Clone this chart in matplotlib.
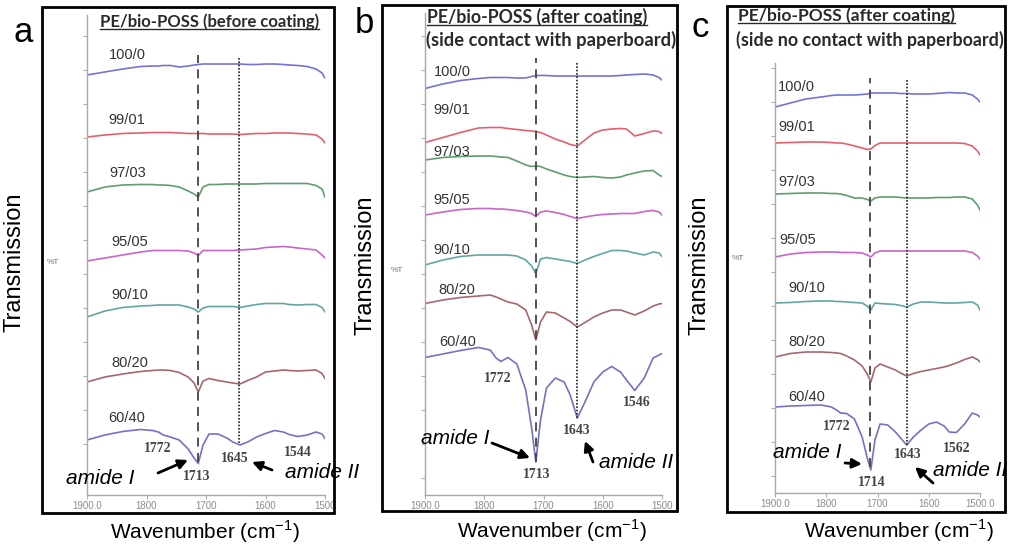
import matplotlib
matplotlib.use('Agg')
import matplotlib.pyplot as plt
from matplotlib.patches import Rectangle
from matplotlib.lines import Line2D

plt.rcParams['font.family'] = ['Liberation Sans', 'DejaVu Sans']

# wavenumber grid (cm-1) used for all spectra
wn = [1900, 1870, 1840, 1810, 1790, 1780, 1772, 1760, 1745, 1730, 1720, 1713, 1705, 1695,
      1680, 1665, 1655, 1643, 1630, 1615, 1600, 1585, 1570, 1560, 1546, 1530, 1515, 1505, 1500]

samples = ['100/0', '99/01', '97/03', '95/05', '90/10', '80/20', '60/40']
colors = ['#7474d6', '#e4606c', '#5e9e6c', '#c865c8', '#62a6a2', '#a8666c', '#7272c6']

# (a) before coating  -- stacked transmission, arbitrary units
a_100_0 = [420, 423, 426, 428.5, 429, 429, 429.5, 429.5, 428, 429, 430, 430.5, 431, 431, 431, 431, 431, 431, 430.5, 430.5, 431, 431, 430.5, 430, 429.5, 428.5, 426, 422, 417]
a_99_01 = [358, 360, 361.5, 362, 362.5, 362.5, 362.5, 362.5, 362, 361.5, 361.5, 361.5, 361.5, 361, 361, 361, 361, 360.5, 361, 361.5, 361.5, 362, 362, 362, 361.5, 361, 360, 356, 352]
a_97_03 = [303, 308, 310, 310.5, 310.5, 310, 310, 309.5, 308, 304, 301, 298, 308, 310.5, 310.5, 311, 311, 311, 311, 311, 311.5, 311.5, 311.5, 311.5, 311.5, 311.5, 309.5, 306, 298]
a_95_05 = [234, 237, 240, 243, 244.5, 244.5, 244.5, 244.5, 244.5, 244, 242, 239.5, 244.5, 244.5, 244.5, 244.5, 244.5, 245, 245.5, 246, 247.5, 248, 248.5, 248, 247, 246, 245, 240, 237]
a_90_10 = [178, 184, 187.5, 189, 189.5, 190, 190, 190, 190, 188, 186, 183, 187, 188.5, 188.5, 188.5, 188.5, 187.5, 189, 190.5, 191.5, 191.5, 191.5, 190.5, 190, 190.5, 190.5, 187.5, 183]
a_80_20 = [113, 118, 121, 123.5, 124.5, 125, 125, 124.5, 122.5, 118, 112, 103, 114, 116.5, 114.5, 113, 112, 111, 114.5, 118, 123, 124, 125, 124.5, 124, 124.5, 125, 121.5, 116.5]
a_60_40 = [55, 60, 63.5, 65.5, 64.5, 63, 60, 58, 55, 46, 37, 31.5, 50, 61, 61, 57, 53, 50, 53, 58, 61.5, 64.5, 63, 60.5, 58.5, 60, 63, 61, 56.5]

# (b) after coating, side in contact with paperboard
b_100_0 = [406.5, 411, 414.5, 416.5, 417.5, 417.5, 417.5, 417.5, 417, 417, 418.5, 419.5, 419.5, 419.5, 419, 419, 419, 419, 419, 419, 419, 419, 419.5, 420, 420.5, 421, 420, 417.5, 415]
b_99_01 = [352.5, 357.5, 362.5, 367, 367.5, 367.5, 367.5, 366.5, 365.5, 364.5, 364, 363.5, 362.5, 360, 356, 353, 350.5, 349, 355, 362, 365, 366, 366.5, 366, 359, 361.5, 364, 363.5, 361.5]
b_97_03 = [335, 337.5, 338.5, 339, 339, 338.5, 338, 337.5, 334, 330, 328.5, 329, 328.5, 326, 323, 320, 318.5, 317.5, 318, 318.5, 317.5, 317, 318, 320, 322, 324, 324.5, 320, 318.5]
b_95_05 = [280, 283, 285.5, 286.5, 286.5, 286, 286, 285.5, 284.5, 283, 281.5, 278.5, 283, 284, 282.5, 280.5, 278.5, 276.5, 278, 279.5, 280.5, 281, 281.5, 281.5, 281.5, 283.5, 284.5, 283, 280]
b_90_10 = [230, 235, 238.5, 240, 240, 240, 240, 240, 239, 235, 229, 221.5, 236, 237.5, 236, 234.5, 233.5, 231.5, 235, 238.5, 241.5, 244.5, 244.5, 244, 242, 240, 243, 242, 238.5]
b_80_20 = [191.5, 195, 197.5, 199, 200, 198, 196, 193, 191, 185, 170, 155, 173, 183, 182, 177, 173.5, 168, 172.5, 178, 182, 185, 185, 183, 180, 184, 189, 191, 191.5]
b_60_40 = [137.5, 141, 144.5, 147.5, 145, 137, 133.5, 137.5, 131, 105, 67, 33, 75, 107, 117, 113, 100, 77, 93, 113, 123, 128.5, 123, 115, 104.5, 117, 137, 140, 141.5]

# (c) after coating, side not in contact with paperboard
c_100_0 = [386, 390, 394, 396, 397.5, 398, 398, 398, 398, 398.5, 399, 400, 400, 400, 400, 400, 399.5, 399.5, 399, 399, 399, 399.5, 400, 400.5, 400, 400, 398, 394, 391]
c_99_01 = [350, 350.5, 351, 351, 350.5, 350, 350, 349, 347, 345, 343.5, 344, 347.5,
           350, 350, 350, 350, 350, 350, 350, 350, 350, 350, 350, 350, 349.5, 347, 342, 338]
c_97_03 = [299, 299.5, 300, 300, 299.5, 299.5, 299, 297.5, 295, 295, 293.5, 292, 295, 296, 296, 296, 295.5, 295, 295, 295, 295, 295.5, 295.5, 295.5, 296, 296, 294, 288, 283]
c_95_05 = [236, 239, 240.5, 241, 241, 241, 240.5, 240.5, 240.5, 240, 238, 236, 240,
           242, 242, 242, 242, 242, 242, 242, 242, 242, 242, 242, 242, 242, 240.5, 237, 234]
c_90_10 = [190, 190.5, 191.5, 192, 192, 191.5, 191.5, 191, 190.5, 190, 187, 183, 190, 189.5, 189, 188.5, 187.5, 186, 189, 191, 191, 190.5, 190, 190, 190, 190.5, 191, 188, 183]
c_80_20 = [136, 139.5, 141, 141, 140.5, 140, 139.5, 137, 133, 127, 119, 111, 125, 129, 126, 123, 120, 117, 119.5, 121.5, 123, 124.5, 126, 127.5, 130, 133.5, 136, 133.5, 131]
c_60_40 = [86, 87, 87.5, 88, 86, 83, 80, 79.5, 74, 56, 35, 23, 53, 69, 68, 61, 55, 48, 56, 63, 69, 71, 67, 61, 60.5, 69, 80, 78, 76]

W, H = 1009, 548
fig = plt.figure(figsize=(W / 100, H / 100), dpi=100)


def fx(x):
    return x / W


def fy(y):
    return 1 - y / H


def ptext(x, y, s, **kw):
    return fig.text(fx(x), fy(y), s, **kw)


panels = [
    dict(letter='a', letter_xy=(23, 42), frame=(42, 7, 334, 513), axbox=(87, 15, 325, 495),
         data=[a_100_0, a_99_01, a_97_03, a_95_05, a_90_10, a_80_20, a_60_40],
         title=[('PE/bio-POSS (before coating)', 100, 22, 220)],
         xticklabels=['1900.0', '1800', '1700', '1600', '1500'],
         dash=(1713, 33, 440), dot=(1645, 52, 437),
         lab_xy=[(127, 55), (127, 120), (128, 173), (130, 242), (130, 295), (130, 363), (127, 418)],
         peaks=[('1772', 158, 448), ('1713', 197, 477), ('1645', 235, 458), ('1544', 298, 453)],
         am1=((100, 479), (158, 473), (188, 460)), am2=((322, 472), (272, 470), (252, 462)),
         trans=(15, 262), pct=(53, 262), wave=(205, 532)),
    dict(letter='b', letter_xy=(364, 33), frame=(382, 5, 677, 511), axbox=(425, 13, 662, 495),
         data=[b_100_0, b_99_01, b_97_03, b_95_05, b_90_10, b_80_20, b_60_40],
         title=[('PE/bio-POSS (after coating)', 427, 17, 221),
                ('(side contact with paperboard)', 426, 40, 249)],
         xticklabels=['1900.0', '1800', '1700', '1600', '1500'],
         dash=(1713, 33, 437), dot=(1643, 77, 433),
         lab_xy=[(452, 72), (452, 110), (452, 152), (452, 200), (452, 250), (457, 290), (458, 342)],
         peaks=[('1772', 498, 378), ('1713', 537, 475), ('1643', 577, 430), ('1546', 637, 403)],
         am1=((455, 438), (492, 443), (530, 458)), am2=((636, 463), (593, 462), (585, 441)),
         trans=(365, 265), pct=(397, 270), wave=(552, 531)),
    dict(letter='c', letter_xy=(700, 37), frame=(727, 6, 1005, 512), axbox=(775, 63, 980, 493),
         data=[c_100_0, c_99_01, c_97_03, c_95_05, c_90_10, c_80_20, c_60_40],
         title=[('PE/bio-POSS (after coating)', 738, 16, 217),
                ('(side no contact with paperboard)', 736, 40, 267)],
         xticklabels=['1900.0', '1800', '1700', '1600', '1500.0'],
         dash=(1714, 26, 415), dot=(1643, 48, 413),
         lab_xy=[(796, 87), (797, 127), (797, 182), (798, 240), (807, 288), (807, 342), (807, 397)],
         peaks=[('1772', 837, 427), ('1714', 872, 482), ('1643', 908, 455), ('1562', 957, 448)],
         am1=((807, 453), (845, 463), (862, 464)), am2=((970, 470), (933, 483), (915, 467)),
         trans=(700, 265), pct=(738, 258), wave=(899, 531)),
]

titles = []
for p in panels:
    x0, y0, x1, y1 = p['frame']
    fig.add_artist(Rectangle((fx(x0), fy(y1)), (x1 - x0) / W, (y1 - y0) / H,
                             transform=fig.transFigure, fill=False, lw=2, ec='black', zorder=5))

    ax0, ay0, ax1, ay1 = p['axbox']
    ax = fig.add_axes([fx(ax0), fy(ay1), (ax1 - ax0) / W, (ay1 - ay0) / H])
    ax.patch.set_alpha(0)
    ax.set_xlim(1900, 1500)
    ax.set_ylim(0, ay1 - ay0)
    for s in ['top', 'right']:
        ax.spines[s].set_visible(False)
    for s in ['left', 'bottom']:
        ax.spines[s].set_color('#a8a8a8')
        ax.spines[s].set_linewidth(1)
    ax.set_xticks([1900, 1800, 1700, 1600, 1500])
    ax.set_xticklabels(p['xticklabels'], fontsize=7, color='#8c8c8c')
    ax.set_yticks(list(range(17, ay1 - ay0, 34)))
    ax.set_yticklabels([])
    ax.tick_params(length=3, color='#b0b0b0', pad=1.5)

    for vals, col in zip(p['data'], colors):
        ax.plot(wn, vals, color=col, lw=1.2)

    d = p['dash']
    ax.plot([d[0], d[0]], [d[1], d[2]], color='#444444', lw=1.3, ls=(0, (5, 3.5)))
    d = p['dot']
    ax.plot([d[0], d[0]], [d[1], d[2]], color='#222222', lw=1.2, ls=(0, (1, 1)))

    for name, (lx, ly) in zip(samples, p['lab_xy']):
        ptext(lx, ly, name, fontsize=10.5, color='#333333', ha='center', va='center')
    for s, lx, ly in p['peaks']:
        ptext(lx, ly, s, fontsize=10, color='#444444', ha='center', va='center',
              family='Liberation Serif', weight='bold')

    (tx, ty), t0, hd = p['am1']
    ptext(tx, ty, 'amide I', fontsize=15, style='italic', ha='center', va='center')
    ax.annotate('', xy=(hd[0], H - hd[1]), xytext=(t0[0], H - t0[1]), xycoords='figure pixels',
                textcoords='figure pixels', annotation_clip=False,
                arrowprops=dict(arrowstyle='-|>', lw=2, color='black', mutation_scale=14, shrinkA=0, shrinkB=0))
    (tx, ty), t0, hd = p['am2']
    ptext(tx, ty, 'amide II', fontsize=15, style='italic', ha='center', va='center')
    ax.annotate('', xy=(hd[0], H - hd[1]), xytext=(t0[0], H - t0[1]), xycoords='figure pixels',
                textcoords='figure pixels', annotation_clip=False,
                arrowprops=dict(arrowstyle='-|>', lw=2, color='black', mutation_scale=14, shrinkA=0, shrinkB=0))

    ptext(p['letter_xy'][0], p['letter_xy'][1], p['letter'], fontsize=25, ha='center', va='baseline')
    ptext(p['trans'][0], p['trans'][1], 'Transmission', fontsize=17, rotation=90, ha='center', va='center')
    ptext(p['pct'][0], p['pct'][1], '%T', fontsize=6, color='#777777', ha='center', va='center')
    ptext(p['wave'][0], p['wave'][1], 'Wavenumber (cm$^{\\mathregular{-1}}$)', fontsize=15,
          ha='center', va='center')

    for k, (s, tx, ty, tw) in enumerate(p['title']):
        t = ptext(tx, ty, s, fontsize=10.5, weight='bold', color='#2a2a2a', ha='left', va='center',
                  family=['Lato', 'DejaVu Sans'])
        titles.append((t, tw, k == 0))

# fit title widths, then underline first line
fig.canvas.draw()
r = fig.canvas.get_renderer()
for t, tw, under in titles:
    bb = t.get_window_extent(r)
    t.set_fontsize(t.get_fontsize() * tw / bb.width)
fig.canvas.draw()
for t, tw, under in titles:
    if under:
        bb = t.get_window_extent(r)
        yy = (bb.y0 + 1) / H
        fig.add_artist(Line2D([bb.x0 / W, bb.x1 / W], [yy, yy], transform=fig.transFigure,
                              color='#2a2a2a', lw=1))

fig.savefig('out.png', dpi=100)
